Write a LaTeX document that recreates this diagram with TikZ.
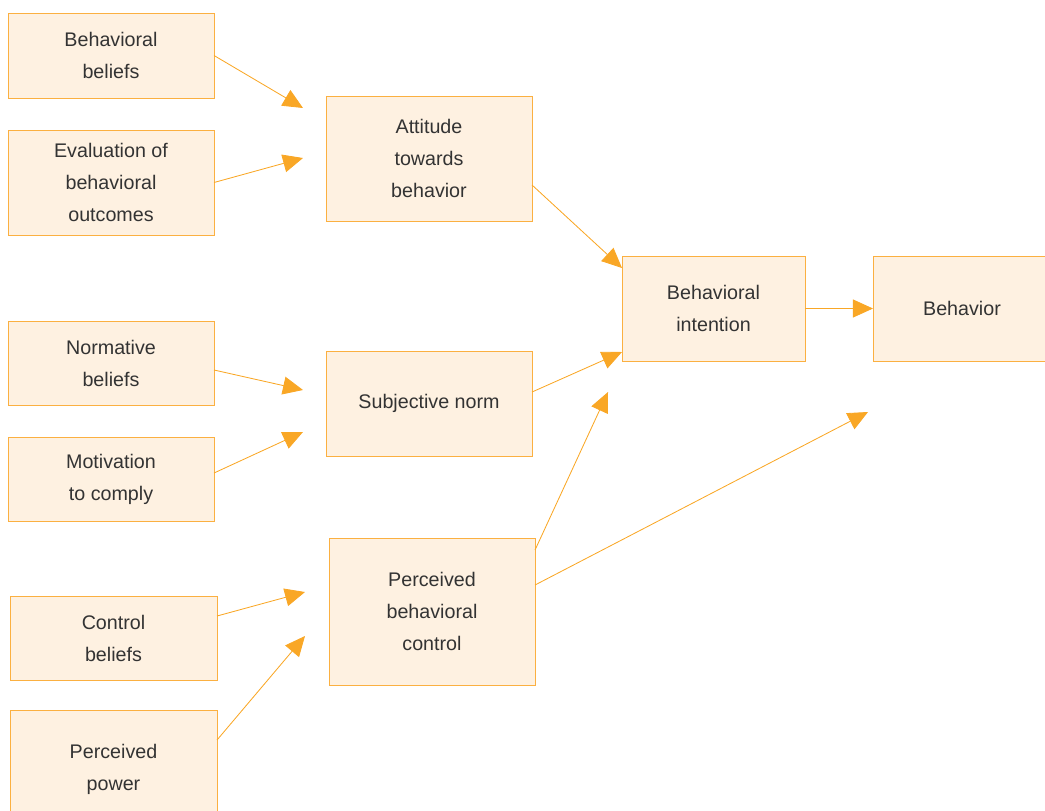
\documentclass[tikz,border=0pt]{standalone}
\usepackage{fontspec}
\setmainfont{Liberation Sans}
\usetikzlibrary{arrows.meta,calc}
\definecolor{boxfill}{HTML}{FEF1E1}
\definecolor{boxline}{HTML}{FBB041}
\definecolor{arrowcol}{HTML}{F9A726}
\definecolor{txtgray}{HTML}{333333}
\tikzset{
	box/.style={draw=boxline, fill=boxfill, line width=0.6pt, inner sep=0pt, outer sep=0pt,
		align=center, text=txtgray, font=\fontsize{14}{22.7}\selectfont},
	link/.style={draw=arrowcol, line width=0.6pt, -{Triangle[length=0.5cm,width=0.45cm]}}
}
\begin{document}
\begin{tikzpicture}[x=0.025cm,y=-0.025cm]
	\useasboundingbox (0,0) rectangle (1045,810);
	\clip (0,0) rectangle (1045,810);

	% left column
	\node[box, minimum width=5.15cm, minimum height=2.125cm] (bb) at (111,55.5) {Behavioral\\beliefs};
	\node[box, minimum width=5.15cm, minimum height=2.625cm] (eb) at (111,182.5) {Evaluation of\\behavioral\\outcomes};
	\node[box, minimum width=5.15cm, minimum height=2.1cm] (nb) at (111,363) {Normative\\beliefs};
	\node[box, minimum width=5.15cm, minimum height=2.1cm] (mc) at (111,479) {Motivation\\to comply};
	\node[box, minimum width=5.175cm, minimum height=2.1cm] (cb) at (113.5,638) {Control\\beliefs};
	\node[box, minimum width=5.175cm, minimum height=2.95cm] (pp) at (113.5,769) {Perceived\\power};

	% middle column
	\node[box, minimum width=5.15cm, minimum height=3.125cm] (att) at (429,158.5) {Attitude\\towards\\behavior};
	\node[box, minimum width=5.15cm, minimum height=2.625cm] (sn) at (429,403.5) {Subjective norm};
	\node[box, minimum width=5.15cm, minimum height=3.675cm] (pbc) at (432,611.5) {Perceived\\behavioral\\control};

	% right
	\node[box, minimum width=4.575cm, minimum height=2.625cm] (bi) at (713.5,308.5) {Behavioral\\intention};
	\node[box, minimum width=4.45cm, minimum height=2.625cm] (beh) at (962,308.5) {Behavior};

	\coordinate (a1) at (303,108);
	\coordinate (a2) at (303,158);
	\coordinate (a3) at (622,268);
	\coordinate (a4) at (303,390);
	\coordinate (a5) at (303,432);
	\coordinate (a6) at (622,352);
	\coordinate (a7) at (608,392);
	\coordinate (a8) at (868,412);
	\coordinate (a9) at (305,592);
	\coordinate (a10) at (305,636);

	\draw[link] (bb.east) -- (a1);
	\draw[link] (eb.east) -- (a2);
	\draw[link] ($(att.east)+(0,26.5)$) -- (a3);
	\draw[link] ($(nb.east)+(0,7)$) -- (a4);
	\draw[link] ($(mc.east)+(0,-6)$) -- (a5);
	\draw[link] ($(sn.east)+(0,-11.5)$) -- (a6);
	\draw[link] ($(pbc.east)+(0,-61.5)$) -- (a7);
	\draw[link] ($(pbc.east)+(0,-26.5)$) -- (a8);
	\draw[link] ($(cb.east)+(0,-22)$) -- (a9);
	\draw[link] ($(pp.east)+(0,-29)$) -- (a10);
	\draw[link] (bi.east) -- (beh.west);
\end{tikzpicture}
\end{document}
